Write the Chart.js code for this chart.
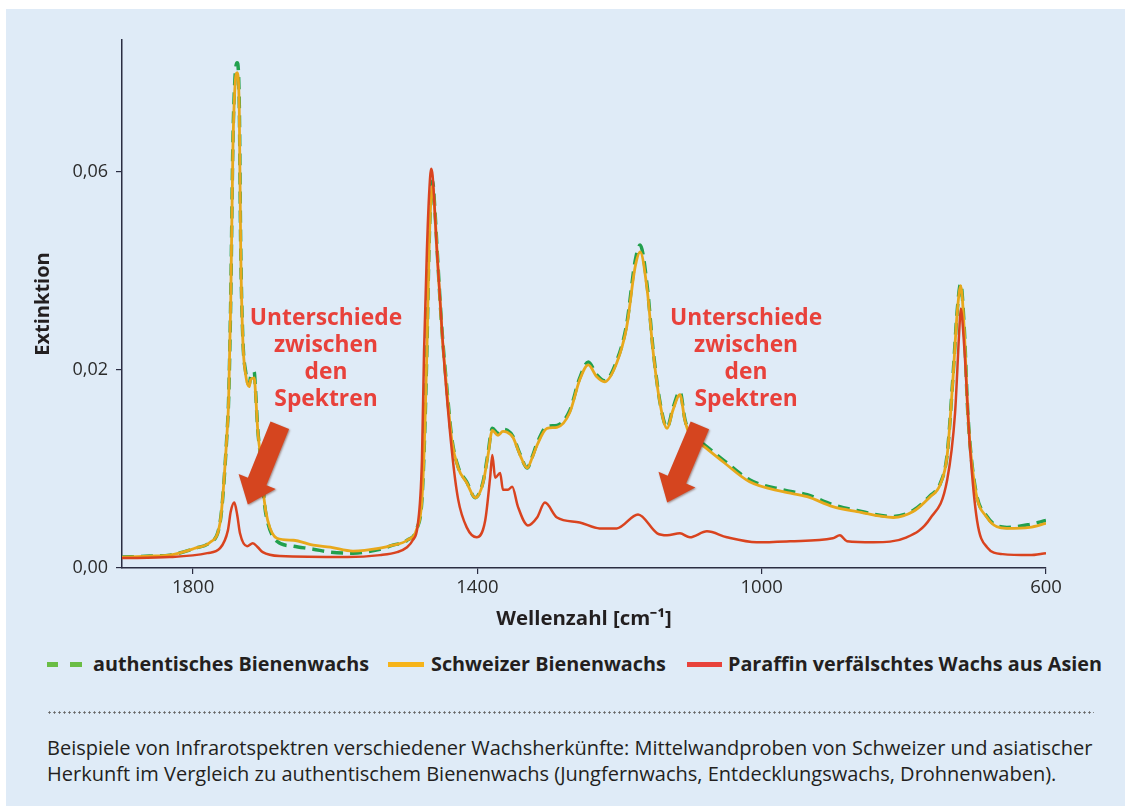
<!DOCTYPE html>
<html lang="de">
<head>
<meta charset="utf-8">
<title>Infrarotspektren Wachs</title>
<script src="https://cdn.jsdelivr.net/npm/chart.js@4.4.1/dist/chart.umd.min.js"></script>
<style>
  body { margin:0; width:1125px; height:806px; background:#fff; position:relative; overflow:hidden; font-family:'Open Sans', Lato, sans-serif; color:#231f20; }
  .panel { position:absolute; left:6px; top:9px; right:0; bottom:0; background:#dfebf7; }
  #spektrum { position:absolute; left:0; top:0; }
  .lg-mark { position:absolute; height:5px; top:662px; }
  .lg-text { position:absolute; top:651px; line-height:26px; font-size:19.8px; font-weight:700; white-space:nowrap; }
  .sep { position:absolute; left:47px; top:711px; width:1047px; height:3px;
         background-image:radial-gradient(circle, #666 0.9px, transparent 1.3px); background-size:5px 3px; background-repeat:repeat-x; }
  .caption { position:absolute; left:47px; top:735px; font-size:20px; line-height:26px; white-space:nowrap; }
</style>
</head>
<body>
<div class="panel"></div>
<canvas id="spektrum" width="1125" height="640"></canvas>

<div class="lg-mark" style="left:47px;width:11px;background:#6abd45"></div>
<div class="lg-mark" style="left:70px;width:12px;background:#6abd45"></div>
<div class="lg-text" style="left:93px">authentisches Bienenwachs</div>
<div class="lg-mark" style="left:388px;width:36px;background:#f6b41a"></div>
<div class="lg-text" style="left:431px">Schweizer Bienenwachs</div>
<div class="lg-mark" style="left:687px;width:35px;background:#e8423b"></div>
<div class="lg-text" style="left:728px">Paraffin verfälschtes Wachs aus Asien</div>
<div class="sep"></div>
<div class="caption">Beispiele von Infrarotspektren verschiedener Wachsherkünfte: Mittelwandproben von Schweizer und asiatischer<br>Herkunft im Vergleich zu authentischem Bienenwachs (Jungfernwachs, Entdecklungswachs, Drohnenwaben).</div>

<script>
// Wellenzahlen (cm-1) der Bienenwachs-Spektren
const waxWn = [1900,1861,1833,1797,1776,1762,1752,1750,1747,1744,
  1741,1738,1735,1733,1730,1726,1721,1719,1714,1712,
  1709,1703,1700,1695,1682,1659,1631,1607,1575,1537,
  1519,1499,1485,1478,1474,1471,1468,1465,1463,1460,
  1456,1450,1443,1436,1427,1415,1403,1392,1385,1379,
  1371,1364,1358,1350,1340,1330,1323,1316,1302,1288,
  1270,1256,1244,1232,1221,1204,1190,1178,1171,1161,
  1153,1143,1133,1125,1115,1108,1101,1087,1054,1017,
  970,936,900,866,815,787,763,749,739,731,
  725,720,715,710,700,683,655,623,600];

const authentisch = [0.0011,0.0012,0.0013,0.0020,0.0026,0.0046,0.0139,0.0170,0.0272,0.0428,
  0.0495,0.0510,0.0468,0.0325,0.0232,0.0198,0.0185,0.0193,0.0198,0.0178,
  0.0140,0.0099,0.0068,0.0046,0.0027,0.0022,0.0019,0.0016,0.0015,0.0019,
  0.0023,0.0028,0.0040,0.0069,0.0139,0.0222,0.0325,0.0380,0.0391,0.0364,
  0.0313,0.0242,0.0182,0.0131,0.0102,0.0087,0.0071,0.0087,0.0116,0.0141,
  0.0136,0.0140,0.0139,0.0133,0.0115,0.0101,0.0112,0.0126,0.0143,0.0144,
  0.0159,0.0192,0.0208,0.0195,0.0189,0.0209,0.0246,0.0310,0.0326,0.0284,
  0.0222,0.0167,0.0142,0.0161,0.0178,0.0150,0.0136,0.0128,0.0109,0.0089,
  0.0079,0.0074,0.0064,0.0058,0.0052,0.0058,0.0073,0.0085,0.0115,0.0192,
  0.0259,0.0287,0.0242,0.0157,0.0083,0.0052,0.0041,0.0044,0.0048];

const schweizer = [0.0011,0.0012,0.0013,0.0020,0.0026,0.0046,0.0139,0.0169,0.0270,0.0422,
  0.0487,0.0500,0.0462,0.0321,0.0230,0.0195,0.0183,0.0190,0.0192,0.0175,
  0.0139,0.0099,0.0069,0.0048,0.0030,0.0028,0.0023,0.0021,0.0017,0.0020,
  0.0023,0.0028,0.0040,0.0069,0.0139,0.0220,0.0321,0.0376,0.0386,0.0361,
  0.0311,0.0240,0.0180,0.0129,0.0101,0.0086,0.0071,0.0086,0.0114,0.0139,
  0.0134,0.0138,0.0137,0.0132,0.0114,0.0101,0.0111,0.0124,0.0141,0.0142,
  0.0157,0.0190,0.0205,0.0193,0.0188,0.0207,0.0243,0.0304,0.0319,0.0280,
  0.0220,0.0166,0.0141,0.0159,0.0175,0.0149,0.0134,0.0126,0.0107,0.0087,
  0.0077,0.0072,0.0062,0.0057,0.0051,0.0057,0.0072,0.0084,0.0114,0.0190,
  0.0257,0.0285,0.0240,0.0156,0.0082,0.0051,0.0040,0.0041,0.0045];

// Paraffin-Probe aus Asien
const parWn = [1900,1833,1780,1762,1751,1747,1742,1738,1734,1724,
  1716,1709,1702,1678,1583,1537,1513,1499,1491,1484,
  1478,1475,1471,1468,1465,1463,1457,1448,1436,1427,
  1415,1401,1389,1382,1379,1375,1368,1364,1357,1351,
  1343,1329,1316,1305,1288,1256,1228,1204,1174,1147,
  1133,1115,1101,1077,1049,1007,960,900,890,880,
  843,796,763,739,728,722,720,715,707,697,
  683,661,623,600];

const paraffin = [0.0010,0.0011,0.0015,0.0020,0.0038,0.0057,0.0066,0.0054,0.0035,0.0022,
  0.0025,0.0021,0.0016,0.0012,0.0011,0.0013,0.0016,0.0021,0.0028,0.0043,
  0.0109,0.0220,0.0321,0.0376,0.0403,0.0396,0.0321,0.0220,0.0119,0.0069,
  0.0041,0.0031,0.0048,0.0092,0.0114,0.0091,0.0096,0.0079,0.0079,0.0082,
  0.0062,0.0043,0.0051,0.0066,0.0051,0.0046,0.0040,0.0040,0.0054,0.0035,
  0.0033,0.0035,0.0031,0.0037,0.0031,0.0026,0.0027,0.0030,0.0033,0.0027,
  0.0026,0.0031,0.0050,0.0089,0.0156,0.0240,0.0262,0.0223,0.0122,0.0048,
  0.0021,0.0014,0.0013,0.0015];

// Achsen
const xTicks = [1800, 1400, 1000, 600];
const yTicks = [0, 0.02, 0.04];
const yTickLabels = ['0,00', '0,02', '0,06'];

// Hinweise mit Pfeilen
const noteLines = ['Unterschiede', 'zwischen', 'den', 'Spektren'];
const noteX = [1613, 1022];
const noteY = [0.0252, 0.0252];
const arrowTailX = [1678, 1087];
const arrowTailY = [0.0144, 0.0144];
const arrowTipX = [1723, 1133];
const arrowTipY = [0.0064, 0.0066];

const pts = (xs, ys) => xs.map((v, i) => ({ x: v, y: ys[i] }));
const axisColor = '#2b2d42';

function drawArrow(ctx, x0, y0, x1, y1) {
  const dx = x1 - x0, dy = y1 - y0, len = Math.hypot(dx, dy);
  const ux = dx / len, uy = dy / len, nx = -uy, ny = ux;
  const sw = 10, hw = 20, hl = 25;
  const bx = x1 - ux * hl, by = y1 - uy * hl;
  ctx.beginPath();
  ctx.moveTo(x0 + nx * sw, y0 + ny * sw);
  ctx.lineTo(bx + nx * sw, by + ny * sw);
  ctx.lineTo(bx + nx * hw, by + ny * hw);
  ctx.lineTo(x1, y1);
  ctx.lineTo(bx - nx * hw, by - ny * hw);
  ctx.lineTo(bx - nx * sw, by - ny * sw);
  ctx.lineTo(x0 - nx * sw, y0 - ny * sw);
  ctx.closePath();
  ctx.fill();
}

const notesPlugin = {
  id: 'notes',
  afterDatasetsDraw(chart) {
    const { ctx, scales: { x, y } } = chart;
    ctx.save();
    noteX.forEach((nx, i) => {
      ctx.save();
      ctx.shadowColor = 'rgba(90,30,10,0.45)';
      ctx.shadowBlur = 2;
      ctx.shadowOffsetX = 1;
      ctx.shadowOffsetY = 1;
      ctx.fillStyle = '#d5451f';
      drawArrow(ctx, x.getPixelForValue(arrowTailX[i]), y.getPixelForValue(arrowTailY[i]),
                     x.getPixelForValue(arrowTipX[i]), y.getPixelForValue(arrowTipY[i]));
      ctx.restore();
      ctx.fillStyle = '#e8413b';
      ctx.font = "bold 22.8px 'Open Sans'";
      ctx.textAlign = 'center';
      ctx.textBaseline = 'middle';
      const cx = x.getPixelForValue(nx), cy = y.getPixelForValue(noteY[i]);
      noteLines.forEach((t, k) => ctx.fillText(t, cx, cy + k * 27));
    });
    ctx.restore();
  }
};

Chart.defaults.font.family = "'Open Sans'";
Chart.defaults.color = '#2b2b2b';

new Chart(document.getElementById('spektrum'), {
  type: 'line',
  data: {
    datasets: [
      { label: 'authentisches Bienenwachs', data: pts(waxWn, authentisch), borderColor: '#22a04e', borderWidth: 3.5, borderDash: [12, 7], order: 3 },
      { label: 'Schweizer Bienenwachs', data: pts(waxWn, schweizer), borderColor: '#e8a81c', borderWidth: 2.8, order: 2 },
      { label: 'Paraffin verfälschtes Wachs aus Asien', data: pts(parWn, paraffin), borderColor: '#d9431f', borderWidth: 2.5, order: 1 }
    ]
  },
  options: {
    responsive: false, animation: false, devicePixelRatio: 1,
    elements: { point: { radius: 0 }, line: { cubicInterpolationMode: 'monotone', fill: false } },
    layout: { padding: { left: 20, top: 40, right: 79, bottom: 0 } },
    plugins: { legend: { display: false }, tooltip: { enabled: false } },
    scales: {
      x: {
        type: 'linear', reverse: true, min: 600, max: 1900,
        afterBuildTicks: s => { s.ticks = xTicks.map(v => ({ value: v })); },
        afterFit: s => { s.height = 72; },
        ticks: { font: { size: 18.5 }, padding: 3, maxRotation: 0, callback: v => String(v) },
        grid: { drawOnChartArea: false, drawTicks: true, tickLength: 6, color: axisColor, lineWidth: 1.2 },
        border: { display: true, color: axisColor, width: 1.5 },
        title: { display: true, text: 'Wellenzahl [cm⁻¹]', font: { size: 20.4, weight: 'bold' }, color: '#231f20', padding: { top: 0, bottom: 9 } }
      },
      y: {
        min: 0, max: 0.0533,
        afterBuildTicks: s => { s.ticks = yTicks.map(v => ({ value: v })); },
        afterFit: s => { s.width = 102; },
        ticks: { font: { size: 18 }, padding: 8, callback: (v, i) => yTickLabels[i] },
        grid: { drawOnChartArea: false, drawTicks: true, tickLength: 6, color: axisColor, lineWidth: 1.2 },
        border: { display: true, color: axisColor, width: 1.5 },
        title: { display: true, text: 'Extinktion', font: { size: 20, weight: 'bold' }, color: '#231f20', padding: { top: 11, bottom: 0 } }
      }
    }
  },
  plugins: [notesPlugin]
});
</script>
</body>
</html>
